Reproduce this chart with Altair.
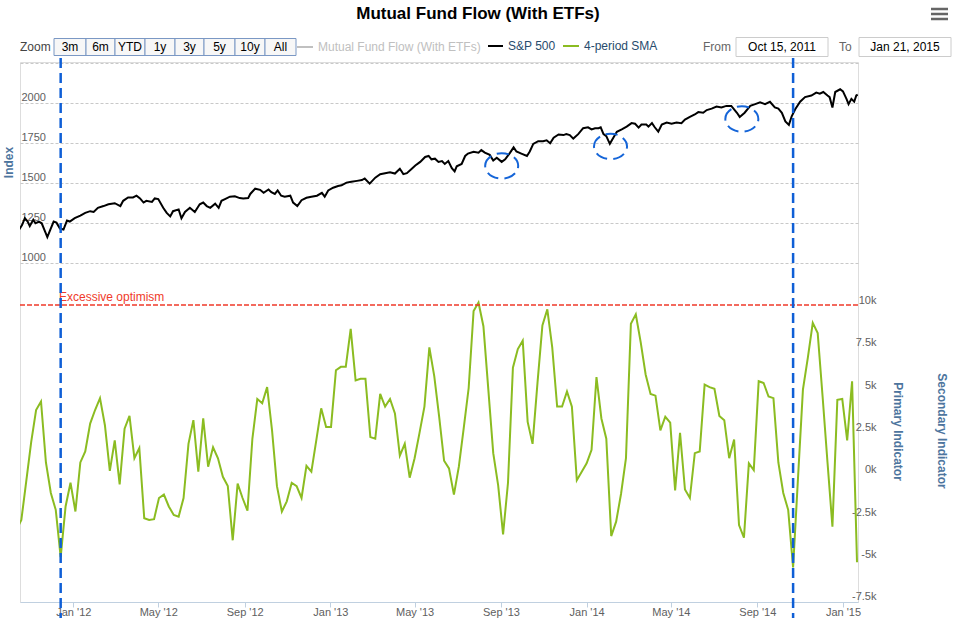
import altair as alt
import pandas as pd

FONT = "Liberation Sans"

# ---------------- data ----------------
# weekly 4-period SMA of mutual fund flow (Wednesdays), first point is just left of the view
flow_start = "2011-10-12"
flow_values = [
    -3300, -2700, -400, 1900, 3800, 4300, 700, -1100, -2100, -4900,
    -1900, -500, -2200, 700, 1350, 3000, 3800, 4500, 2900, 200,
    2000, -600, 2700, 3450, 950, 1550, -2600, -2700, -2650, -1400,
    -1200, -1900, -2400, -2500, -1400, 1800, 3200, 150, 3300, 450,
    1600, 950, -150, -700, -3900, -550, -1400, -2150, 2100, 4450,
    4200, 5150, 2600, -700, -2200, -1600, -500, -700, -1400, 500,
    150, 2000, 3900, 2800, 2800, 6150, 6350, 6350, 8600, 5550,
    5650, 5650, 2200, 2100, 4750, 4000, 4450, 3600, 1100, 1800,
    -200, 950, 2450, 4000, 7500, 5800, 3400, 800, 350, -1200,
    450, 2750, 5100, 9650, 10150, 8750, 5000, 1250, -650, -3550,
    -500, 6300, 7400, 7900, 3100, 1800, 5400, 8800, 9750, 7500,
    4000, 4000, 4900, 4000, -350, 150, 650, 1450, 5750, 3300,
    2100, -3650, -2800, -1150, 950, 8900, 9450, 7800, 5900, 4750,
    4650, 2600, 3400, 3050, -950, 2450, -900, -1400, 1250, 1350,
    5300, 5150, 5050, 3450, 3200, 950, 2050, -3000, -3750, 650,
    250, 5500, 5400, 4600, 4500, 700, -1100, -2100, -5500, -200,
    5000, 6900, 8950, 8350, 4600, 700, -3100, 4400, 4450, 2000,
    5500, -5200,
]
flow_dates = pd.date_range(flow_start, periods=len(flow_values), freq="7D").strftime("%Y-%m-%d").tolist()

sp_dates = [
    "2011-10-16", "2011-10-20", "2011-10-24", "2011-10-28", "2011-10-31", "2011-11-05", "2011-11-08",
    "2011-11-13", "2011-11-17", "2011-11-22", "2011-11-25", "2011-11-29", "2011-12-04", "2011-12-08",
    "2011-12-13", "2011-12-18", "2011-12-23", "2011-12-27", "2012-01-03", "2012-01-11", "2012-01-18",
    "2012-01-25", "2012-01-30", "2012-02-05", "2012-02-13", "2012-02-20", "2012-02-29", "2012-03-08",
    "2012-03-12", "2012-03-19", "2012-03-26", "2012-03-31", "2012-04-05", "2012-04-10", "2012-04-14",
    "2012-04-22", "2012-04-26", "2012-05-01", "2012-05-08", "2012-05-13", "2012-05-18", "2012-05-22",
    "2012-05-30", "2012-06-03", "2012-06-08", "2012-06-15", "2012-06-22", "2012-06-29", "2012-07-04",
    "2012-07-09", "2012-07-14", "2012-07-21", "2012-07-26", "2012-07-30", "2012-08-04", "2012-08-11",
    "2012-08-18", "2012-08-25", "2012-08-30", "2012-09-06", "2012-09-09", "2012-09-16", "2012-09-23",
    "2012-09-28", "2012-10-05", "2012-10-09", "2012-10-14", "2012-10-18", "2012-10-23", "2012-10-28",
    "2012-11-05", "2012-11-09", "2012-11-15", "2012-11-21", "2012-11-28", "2012-12-05", "2012-12-13",
    "2012-12-20", "2012-12-24", "2012-12-29", "2013-01-05", "2013-01-12", "2013-01-17", "2013-01-24",
    "2013-01-31", "2013-02-08", "2013-02-15", "2013-02-19", "2013-02-26", "2013-03-06", "2013-03-13",
    "2013-03-20", "2013-03-27", "2013-04-03", "2013-04-10", "2013-04-15", "2013-04-20", "2013-04-27",
    "2013-05-02", "2013-05-09", "2013-05-16", "2013-05-21", "2013-05-25", "2013-05-30", "2013-06-04",
    "2013-06-09", "2013-06-13", "2013-06-18", "2013-06-23", "2013-06-27", "2013-06-30", "2013-07-07",
    "2013-07-12", "2013-07-16", "2013-07-24", "2013-07-31", "2013-08-04", "2013-08-09", "2013-08-16",
    "2013-08-21", "2013-08-26", "2013-09-02", "2013-09-07", "2013-09-14", "2013-09-19", "2013-09-23",
    "2013-09-30", "2013-10-08", "2013-10-12", "2013-10-17", "2013-10-24", "2013-10-31", "2013-11-05",
    "2013-11-10", "2013-11-15", "2013-11-22", "2013-11-29", "2013-12-03", "2013-12-08", "2013-12-13",
    "2013-12-20", "2013-12-27", "2014-01-03", "2014-01-08", "2014-01-13", "2014-01-18", "2014-01-21",
    "2014-01-25", "2014-01-29", "2014-02-03", "2014-02-08", "2014-02-13", "2014-02-20", "2014-02-27",
    "2014-03-06", "2014-03-11", "2014-03-16", "2014-03-20", "2014-03-27", "2014-03-30", "2014-04-04",
    "2014-04-08", "2014-04-13", "2014-04-18", "2014-04-25", "2014-05-02", "2014-05-09", "2014-05-16",
    "2014-05-21", "2014-05-28", "2014-06-04", "2014-06-09", "2014-06-16", "2014-06-21", "2014-06-28",
    "2014-07-05", "2014-07-12", "2014-07-19", "2014-07-26", "2014-08-03", "2014-08-07", "2014-08-14",
    "2014-08-22", "2014-08-29", "2014-09-05", "2014-09-12", "2014-09-19", "2014-09-26", "2014-10-01",
    "2014-10-06", "2014-10-11", "2014-10-16", "2014-10-20", "2014-10-25", "2014-11-01", "2014-11-08",
    "2014-11-17", "2014-11-24", "2014-11-29", "2014-12-04", "2014-12-10", "2014-12-13", "2014-12-17",
    "2014-12-21", "2014-12-28", "2015-01-01", "2015-01-06", "2015-01-09", "2015-01-13", "2015-01-17",
    "2015-01-20", "2015-01-22",
]
sp_values = [
    1208, 1236, 1279, 1258, 1230, 1269, 1247,
    1258, 1247, 1193, 1160, 1204, 1258, 1251,
    1214, 1208, 1264, 1258, 1279, 1295, 1312,
    1323, 1318, 1344, 1355, 1366, 1373, 1355,
    1388, 1409, 1409, 1420, 1403, 1377, 1388,
    1381, 1403, 1399, 1344, 1312, 1290, 1323,
    1334, 1279, 1318, 1344, 1318, 1366, 1377,
    1355, 1344, 1370, 1344, 1388, 1399, 1414,
    1416, 1405, 1403, 1405, 1431, 1464, 1457,
    1438, 1459, 1442, 1431, 1453, 1420, 1414,
    1420, 1377, 1355, 1392, 1407, 1414, 1420,
    1438, 1414, 1453, 1470, 1481, 1485, 1502,
    1507, 1513, 1518, 1528, 1496, 1533, 1555,
    1561, 1567, 1559, 1589, 1555, 1561, 1589,
    1609, 1632, 1663, 1669, 1648, 1652, 1632,
    1637, 1619, 1637, 1593, 1572, 1604, 1619,
    1669, 1684, 1695, 1690, 1706, 1690, 1676,
    1641, 1658, 1632, 1648, 1690, 1723, 1697,
    1684, 1669, 1697, 1745, 1762, 1762, 1767,
    1749, 1784, 1804, 1800, 1806, 1800, 1778,
    1806, 1843, 1849, 1836, 1843, 1843, 1849,
    1806, 1793, 1745, 1784, 1821, 1836, 1853,
    1875, 1871, 1847, 1866, 1866, 1853, 1875,
    1849, 1821, 1866, 1879, 1871, 1879, 1875,
    1897, 1914, 1929, 1944, 1940, 1957, 1966,
    1979, 1973, 1983, 1983, 1940, 1914, 1940,
    1983, 1994, 2005, 1994, 2009, 1973, 1966,
    1940, 1886, 1864, 1918, 1962, 2009, 2038,
    2048, 2066, 2060, 2070, 2048, 2038, 1973,
    2070, 2087, 2074, 2027, 1994, 2027, 2009,
    2048, 2053,
]

signal_dates = ["2011-12-14", "2014-10-22"]
circle_dates = ["2013-09-02", "2014-02-04", "2014-08-10"]
circle_values = [1607, 1729, 1901]
optimism_level = [10000]

top_ticks = [1000, 1250, 1500, 1750, 2000, 2250]
bottom_ticks = [-7500, -5000, -2500, 0, 2500, 5000, 7500, 10000]
x_tick_dates = ["2012-01-01", "2012-05-01", "2012-09-01", "2013-01-01", "2013-05-01",
                "2013-09-01", "2014-01-01", "2014-05-01", "2014-09-01", "2015-01-01"]
x_domain = ["2011-10-17 02:00", "2015-01-22 10:00"]
range_buttons = ["3m", "6m", "YTD", "1y", "3y", "5y", "10y", "All"]

# ---------------- frames ----------------
flow_df = pd.DataFrame({"date": flow_dates, "value": flow_values})
sp_df = pd.DataFrame({"date": sp_dates, "value": sp_values})
sig_df = pd.DataFrame({"date": signal_dates})
circ_df = pd.DataFrame({"date": circle_dates, "value": circle_values})
opt_df = pd.DataFrame({"value": optimism_level})
dummy = pd.DataFrame({"a": [0]})


def ms(d):
    return int(pd.Timestamp(d).value // 10**6)


# ---------------- layout ----------------
X0, Y0 = 20, 62          # page position of the plot origin
W, H = 838, 540

GRID = dict(gridColor="#c8c8c8", gridDash=[3, 2], gridWidth=1)

xscale = alt.Scale(type="utc", domain=[ms(d) for d in x_domain], nice=False)
xaxis = alt.Axis(values=[ms(d) for d in x_tick_dates], format="%b '%y", grid=False,
                 domainColor="#C0D0E0", tickColor="#C0D0E0", tickSize=5, labelPadding=-1,
                 labelColor="#606060", labelFontSize=11, labelFont=FONT, labelFlush=False,
                 labelOverlap=False, title=None)
X = alt.X("date:T", scale=xscale, axis=xaxis)

top_scale = alt.Scale(domain=[1000, 2250], range=[200.7, 1.3], nice=False, zero=False)
top_axis = alt.Axis(values=top_ticks, orient="left", domain=False, ticks=False, tickSize=0,
                    labelAlign="left", labelPadding=-1, labelBaseline="alphabetic", labelOffset=-2.5,
                    labelColor="#606060", labelFontSize=11, labelFont=FONT, format="d",
                    labelExpr="datum.value == 2250 ? '' : datum.label",
                    labelOverlap=False, labelFlush=False,
                    title="Index", titleColor="#4d759e", titleFont=FONT, titleFontSize=12,
                    titleFontWeight="bold", titleAngle=270, titleX=-12, titleY=100,
                    titleAlign="center", titleBaseline="middle", **GRID)

bot_scale = alt.Scale(domain=[-7500, 10000], range=[539.2, 243.1], nice=False, zero=False)
bot_axis = alt.Axis(values=bottom_ticks, orient="right", domain=False, ticks=False, tickSize=0,
                    labelAlign="right", labelPadding=18, labelBaseline="alphabetic", labelOffset=-1.5,
                    labelColor="#606060", labelFontSize=11, labelFont=FONT,
                    labelExpr="(datum.value / 1000) + 'k'", labelOverlap=False, labelFlush=False,
                    title="Primary Indicator", titleColor="#4d759e", titleFont=FONT, titleFontSize=12,
                    titleFontWeight="bold", titleAngle=90, titleX=39, titleY=369,
                    titleAlign="center", titleBaseline="middle", **GRID)

ELLIPSE = "M-1,0A1,0.77,0,1,1,1,0A1,0.77,0,1,1,-1,0Z"

sp_line = alt.Chart(sp_df).mark_line(color="#000000", strokeWidth=2, clip=True).encode(
    x=X, y=alt.Y("value:Q", scale=top_scale, axis=top_axis))
circles = alt.Chart(circ_df).mark_point(shape=ELLIPSE, size=1089, filled=False, stroke="#1565d8",
                                        strokeWidth=2, strokeDash=[12, 6], opacity=1).encode(
    x=X, y=alt.Y("value:Q", scale=top_scale, axis=top_axis))
top = alt.layer(sp_line, circles)

flow_line = alt.Chart(flow_df).mark_line(color="#8bbc21", strokeWidth=2, clip=True).encode(
    x=X, y=alt.Y("value:Q", scale=bot_scale, axis=bot_axis))
red_rule = alt.Chart(opt_df).mark_rule(color="#f03a2a", strokeWidth=1.5, strokeDash=[5, 2]).encode(
    y=alt.Y("value:Q", scale=bot_scale, axis=bot_axis), x=alt.value(0), x2=alt.value(W))
red_text = alt.Chart(opt_df).mark_text(text="Excessive optimism", color="#f03a2a", fontSize=12, font=FONT,
                                       align="left", baseline="alphabetic", dy=-4).encode(
    y=alt.Y("value:Q", scale=bot_scale, axis=bot_axis), x=alt.value(59 - X0))
blue_rules = alt.Chart(sig_df).mark_rule(color="#0f5fd6", strokeWidth=2.5, strokeDash=[10, 5]).encode(
    x=X, y=alt.value(58 - Y0), y2=alt.value(618 - Y0))
bottom = alt.layer(flow_line, red_rule, red_text, blue_rules)


# ---------------- chrome (title, range selector, legend, inputs) ----------------
def txt(s, px, py, size=12, color="#333333", align="left", weight="normal", angle=0, baseline="middle"):
    return alt.Chart(dummy).mark_text(text=s, fontSize=size, color=color, align=align, baseline=baseline,
                                      fontWeight=weight, angle=angle, font=FONT).encode(
        x=alt.value(px - X0), y=alt.value(py - Y0))


def box(x0, x1, y0, y1, fill, stroke):
    return alt.Chart(dummy).mark_rect(fill=fill, stroke=stroke, strokeWidth=1).encode(
        x=alt.value(x0 - X0), x2=alt.value(x1 - X0), y=alt.value(y0 - Y0), y2=alt.value(y1 - Y0))


def hline(x0, x1, py, color, width):
    return alt.Chart(dummy).mark_rule(color=color, strokeWidth=width).encode(
        x=alt.value(x0 - X0), x2=alt.value(x1 - X0), y=alt.value(py - Y0))


chrome = [txt("Mutual Fund Flow (With ETFs)", 478, 14, size=17, color="#000000", align="center", weight="bold")]
for yy in (9, 14, 19):
    chrome.append(hline(931, 948, yy, "#666666", 2.5))
chrome.append(txt("Zoom", 20, 47, size=12, color="#444444"))
edges = [54, 86, 115, 145, 175, 204, 235, 265, 296]
for k, lab in enumerate(range_buttons):
    chrome.append(box(edges[k], edges[k + 1], 38.5, 55.5, "#f7f7f7", "#7b98c4"))
    chrome.append(txt(lab, (edges[k] + edges[k + 1]) / 2, 47, size=12, color="#000000", align="center"))
chrome.append(hline(297, 313, 47, "#c0c0c0", 2))
chrome.append(txt("Mutual Fund Flow (With ETFs)", 318, 47, size=12, color="#c0c0c0"))
chrome.append(hline(488, 503, 46, "#000000", 2))
chrome.append(txt("S&P 500", 508, 46, size=12, color="#274b6d"))
chrome.append(hline(563, 579, 46, "#8bbc21", 2))
chrome.append(txt("4-period SMA", 584, 46, size=12, color="#274b6d"))
chrome.append(txt("From", 703, 47, size=12, color="#666666"))
chrome.append(box(736, 828, 37.5, 56.5, "#ffffff", "#cccccc"))
chrome.append(txt("Oct 15, 2011", 782, 47, size=12, color="#000000", align="center"))
chrome.append(txt("To", 839, 47, size=12, color="#666666"))
chrome.append(box(859, 951, 37.5, 56.5, "#ffffff", "#cccccc"))
chrome.append(txt("Jan 21, 2015", 905, 47, size=12, color="#000000", align="center"))
chrome.append(txt("Secondary Indicator", 942, 431, size=12, color="#4d759e", align="center",
                  weight="bold", angle=90))

chart = alt.layer(top, bottom, *chrome).resolve_scale(y="independent").properties(
    width=W, height=H,
    padding={"left": X0, "top": Y0, "right": 956 - X0 - W, "bottom": 624 - Y0 - H},
    autosize=alt.AutoSizeParams(type="none"),
).configure_view(stroke=None).configure(font=FONT, background="#ffffff")

chart.save("out.html", embed_options={"renderer": "svg", "actions": False})
